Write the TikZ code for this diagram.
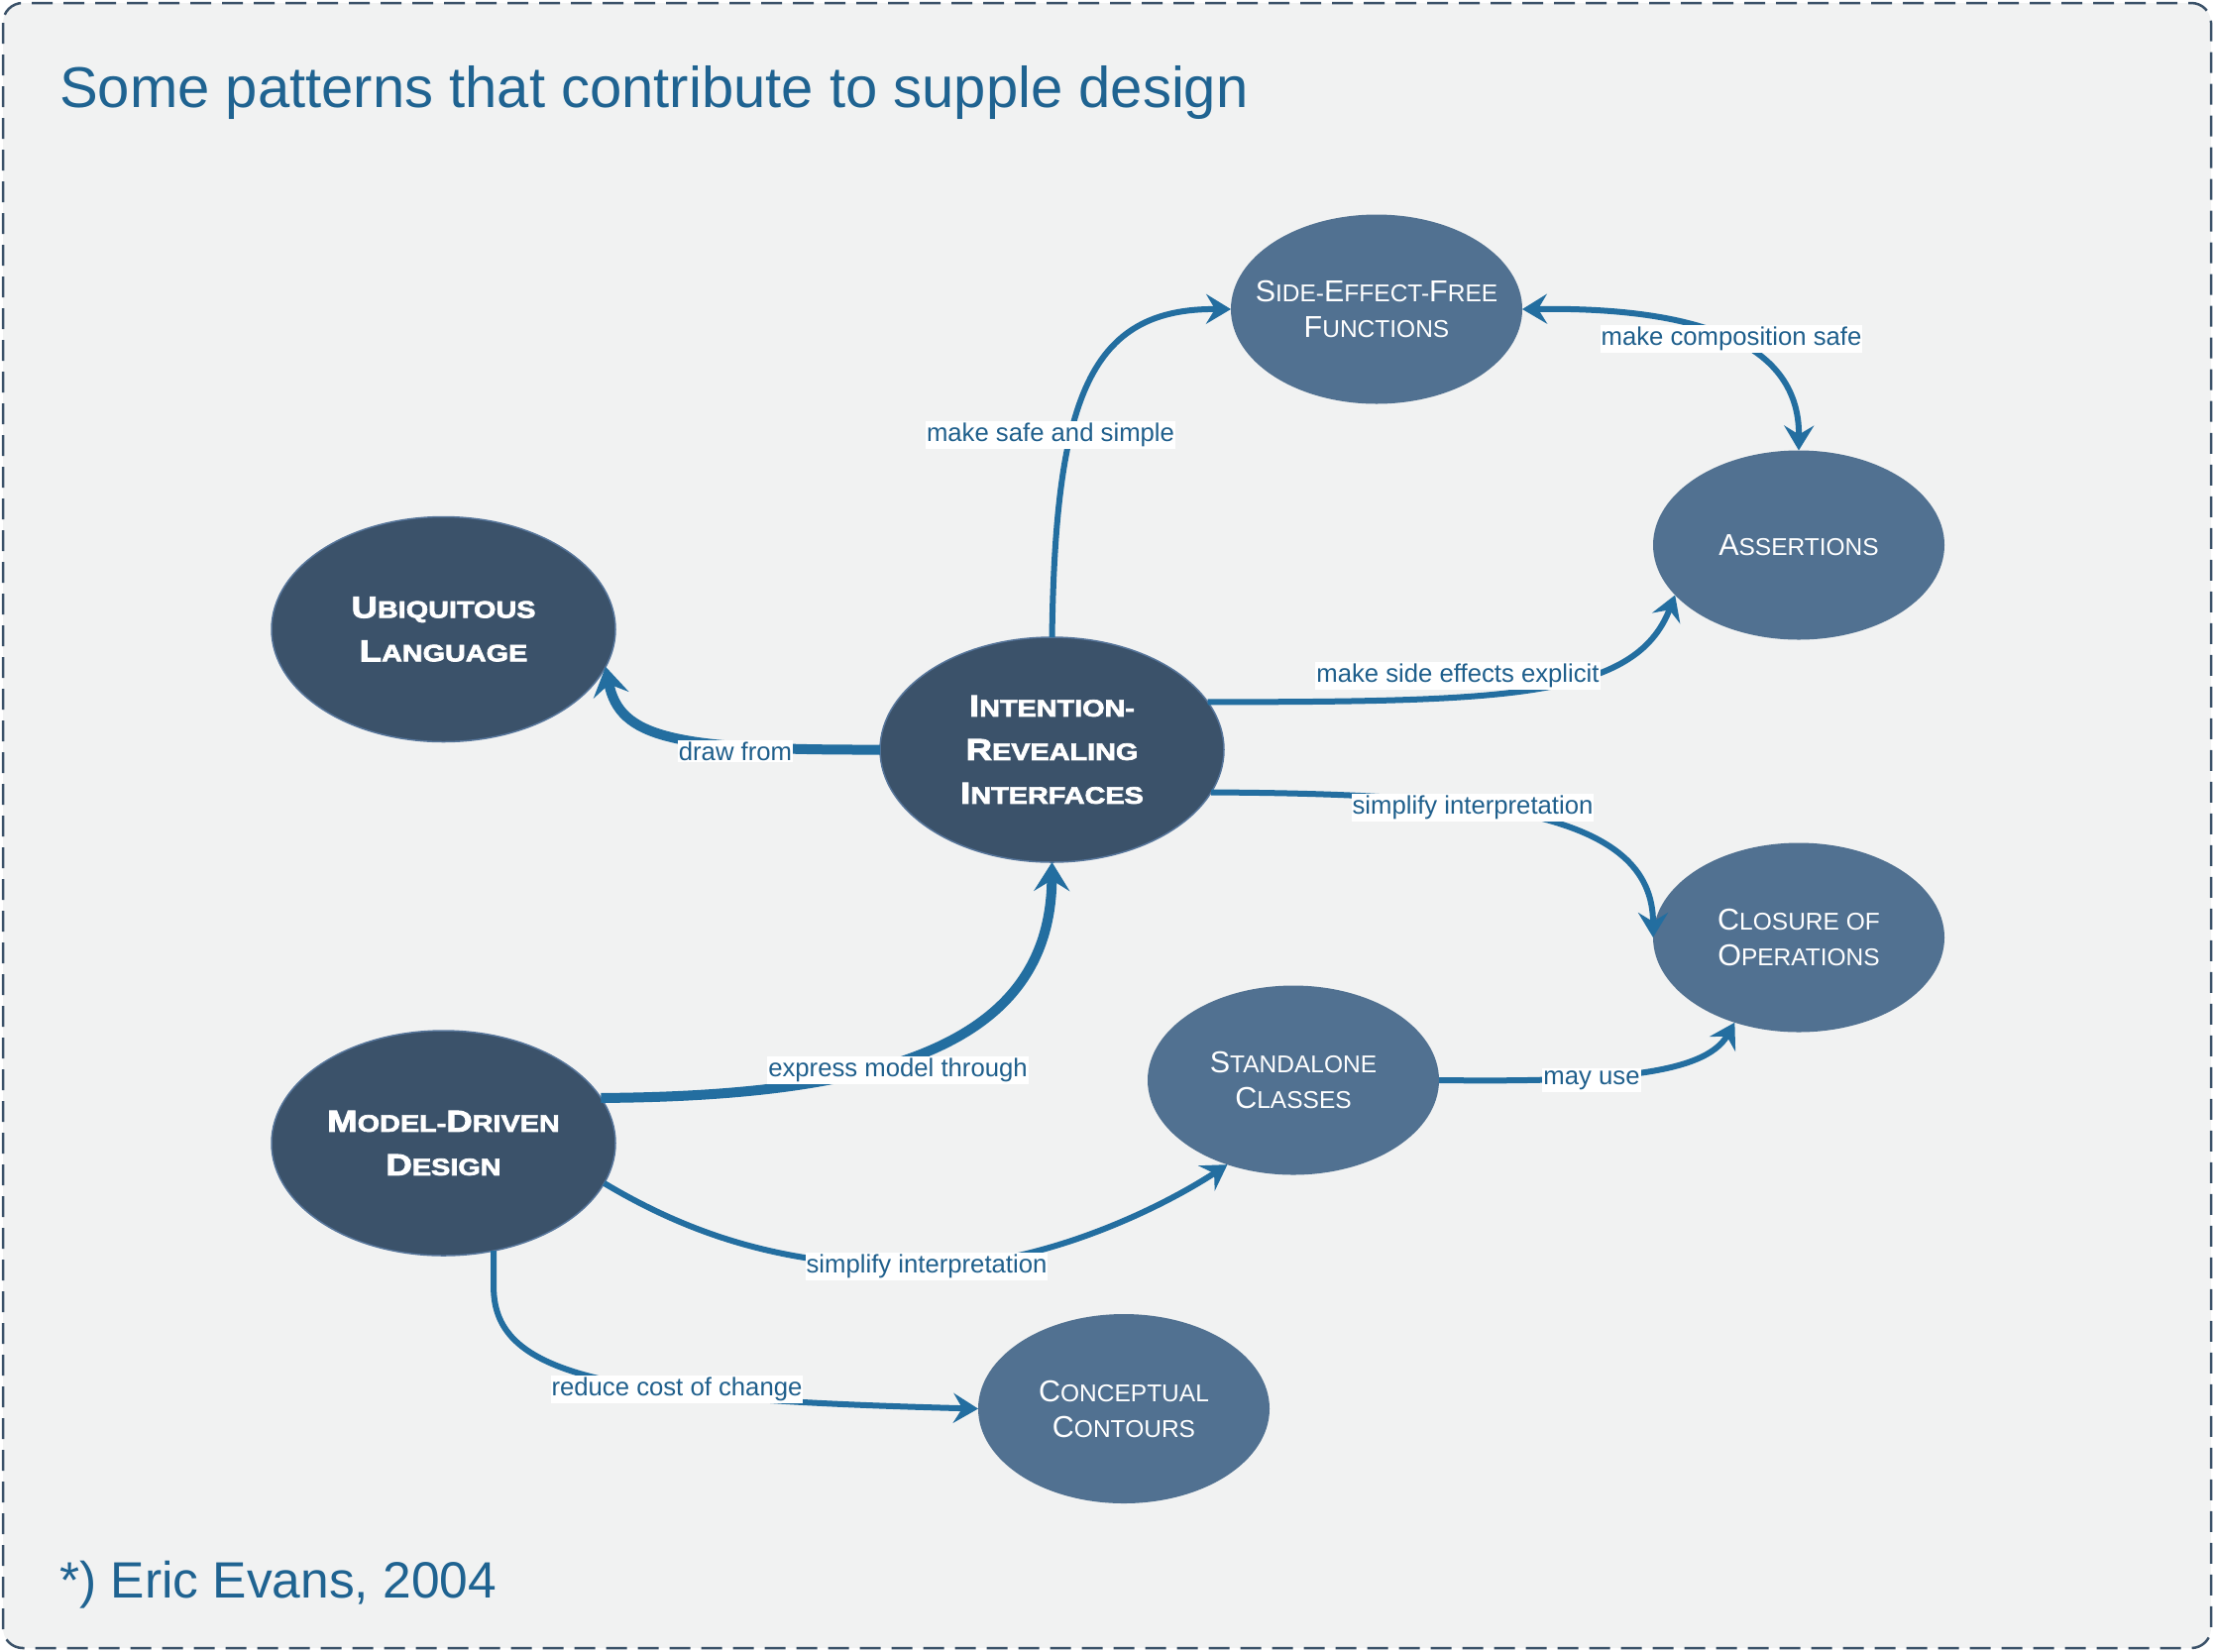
\documentclass[tikz,border=0pt]{standalone}
\usepackage{fontspec}
\setmainfont{Liberation Sans}
\newfontface\heavyfont{Liberation Sans Bold}[FakeStretch=1.2,FakeBold=3]
\usetikzlibrary{shapes.geometric,arrows.meta}
\definecolor{cBg}{HTML}{F1F2F2}
\definecolor{cFrame}{HTML}{3B5269}
\definecolor{cDark}{HTML}{3B526A}
\definecolor{cDarkBorder}{HTML}{56759A}
\definecolor{cLight}{HTML}{517191}
\definecolor{cEdge}{HTML}{236EA0}
\definecolor{cLab}{HTML}{1F5F8C}
\definecolor{cTitle}{HTML}{1F6391}
\newcommand\BigL[1]{{\fontsize{30.5pt}{30.5pt}\selectfont #1}}
\tikzset{
  darknode/.style={ellipse, fill=cDark, draw=cDarkBorder, line width=1.5pt,
    minimum width=347pt, minimum height=227pt, inner sep=0pt, outer sep=0pt},
  lightnode/.style={ellipse, fill=cLight, minimum width=294pt, minimum height=191pt,
    inner sep=0pt, outer sep=0pt},
  darktext/.style={text=white, align=center, inner sep=0pt,
    font=\heavyfont\fontsize{24pt}{44pt}\selectfont},
  lighttext/.style={text=white, align=center, inner sep=0pt,
    font=\fontsize{24.5pt}{36pt}\selectfont},
  conn/.style={draw=cEdge, line width=6pt,
    >={Stealth[length=25pt,width=30pt,inset=9pt]}, ->},
  connthick/.style={draw=cEdge, line width=10pt,
    >={Stealth[length=29pt,width=36pt,inset=11pt]}, ->},
  lbl/.style={fill=white, text=cLab, inner xsep=1pt, inner ysep=2pt,
    font=\fontsize{25.7pt}{30pt}\selectfont},
}
\begin{document}
\begin{tikzpicture}[x=1pt,y=-1pt]
\useasboundingbox (0,0) rectangle (2234,1666);
\draw[fill=cBg, draw=cFrame, line width=2.5pt, dash pattern=on 21pt off 11pt,
  rounded corners=20pt] (3,3) rectangle (2231,1663);

\node[anchor=base west, text=cTitle, inner sep=0pt,
  font=\fontsize{58pt}{68pt}\selectfont] (title) at (60,108)
  {Some patterns that contribute to supple design};
\node[anchor=base west, text=cTitle, inner sep=0pt,
  font=\fontsize{51.5pt}{62pt}\selectfont] (footer) at (60,1612)
  {*) Eric Evans, 2004};

% nodes
\node[darknode] (ubi) at (447.5,635) {};
\node[darktext] (ubi-t) at (ubi) {\BigL{U}BIQUITOUS\\\BigL{L}ANGUAGE};
\node[darknode] (int) at (1061.5,756.5) {};
\node[darktext] (int-t) at (int) {\BigL{I}NTENTION-\\\BigL{R}EVEALING\\\BigL{I}NTERFACES};
\node[darknode] (mdd) at (447.5,1153.5) {};
\node[darktext] (mdd-t) at (mdd) {\BigL{M}ODEL-\BigL{D}RIVEN\\\BigL{D}ESIGN};
\node[lightnode] (sef) at (1389,312) {};
\node[lighttext] (sef-t) at (sef) {\BigL{S}IDE-\BigL{E}FFECT-\BigL{F}REE\\\BigL{F}UNCTIONS};
\node[lightnode] (ass) at (1815,550) {};
\node[lighttext] (ass-t) at (ass) {\BigL{A}SSERTIONS};
\node[lightnode] (clo) at (1815,946) {};
\node[lighttext] (clo-t) at (clo) {\BigL{C}LOSURE OF\\\BigL{O}PERATIONS};
\node[lightnode] (sta) at (1305,1090) {};
\node[lighttext] (sta-t) at (sta) {\BigL{S}TANDALONE\\\BigL{C}LASSES};
\node[lightnode] (con) at (1134,1421.5) {};
\node[lighttext] (con-t) at (con) {\BigL{C}ONCEPTUAL\\\BigL{C}ONTOURS};

% connectors
\draw[conn] (int.north) .. controls (1065,400) and (1100,311) .. (sef.west);
\draw[conn,<->] (sef.east) .. controls (1700,310) and (1816,340) .. (ass.north);
\draw[conn] (int.17) .. controls (1520,708) and (1650,705) .. (ass.-158);
\draw[connthick] (int.west) .. controls (680,757) and (625,745) .. (ubi.-13.6);
\draw[conn] (int.-15.5) .. controls (1500,801) and (1668,820) .. (clo.west);
\draw[connthick] (mdd.16.6) .. controls (900,1106) and (1060,1050) .. (int.south);
\draw[conn] (mdd.-14.3) .. controls (720,1260) and (820,1278) .. (935,1278)
  .. controls (1050,1278) and (1170,1220) .. (sta.-128.9);
\draw[conn] (mdd.-65.2) -- ++(0,38) .. controls (499,1390) and (620,1412) .. (con.west);
\draw[conn] (sta.east) .. controls (1620,1092) and (1720,1085) .. (clo.-127.9);

% labels
\node[lbl] (l1) at (1060,439) {make safe and simple};
\node[lbl] (l2) at (1747,342) {make composition safe};
\node[lbl] (l3) at (1471,682) {make side effects explicit};
\node[lbl] (l4) at (742,758) {draw from};
\node[lbl] (l5) at (1486,815) {simplify interpretation};
\node[lbl] (l6) at (906,1080) {express model through};
\node[lbl] (l7) at (935,1278) {simplify interpretation};
\node[lbl] (l8) at (683,1402) {reduce cost of change};
\node[lbl] (l9) at (1606,1090) {may use};
\end{tikzpicture}
\end{document}
